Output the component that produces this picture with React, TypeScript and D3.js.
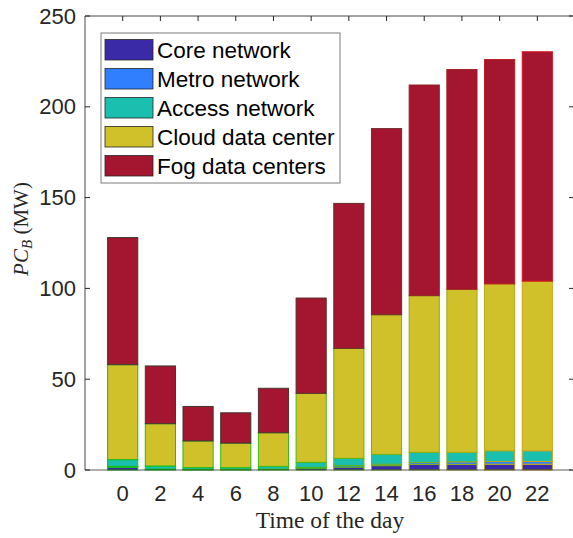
import React from "react";
import * as d3 from "d3";

// Hour of the day for each stacked bar
const hours = [0, 2, 4, 6, 8, 10, 12, 14, 16, 18, 20, 22];

// Power consumption per component (MW), stacked from bottom to top
const coreNetwork = [1.5, 0.3, 0.2, 0.2, 0.3, 1.0, 1.6, 2.4, 3.1, 3.1, 3.2, 3.2];
const metroNetwork = [0.5, 0.2, 0.1, 0.1, 0.2, 0.5, 0.8, 0.8, 1.1, 1.4, 1.5, 1.5];
const accessNetwork = [3.7, 1.7, 1.0, 1.0, 1.5, 2.7, 4.0, 5.4, 5.5, 5.2, 5.9, 5.9];
const cloudDataCenter = [52.3, 23.3, 14.7, 13.5, 18.5, 38.0, 60.6, 76.9, 86.3, 89.8, 91.9, 93.4];
const fogDataCenters = [70.0, 31.8, 19.0, 16.7, 24.5, 52.5, 79.8, 102.5, 116.0, 121.0, 123.5, 126.3];

const seriesNames = ["Core network", "Metro network", "Access network", "Cloud data center", "Fog data centers"];
const seriesValues = [coreNetwork, metroNetwork, accessNetwork, cloudDataCenter, fogDataCenters];
const seriesColors = ["#3b2aa8", "#2f7fff", "#1abfb0", "#d0c02a", "#a4152f"];

const yTicks = [0, 50, 100, 150, 200, 250];

const W = 573;
const H = 538;
const left = 85;
const right = 575;
const top = 16;
const bottom = 470;

export default function App() {
  const x = d3.scaleLinear().domain([-2, 24]).range([left, right]);
  const y = d3.scaleLinear().domain([0, 250]).range([bottom, top]);
  const barW = (x(2) - x(0)) * 0.8;

  const rows = hours.map((h, i) => {
    const r: any = { hour: h };
    seriesNames.forEach((n, k) => (r[n] = seriesValues[k][i]));
    return r;
  });
  const stacked = d3.stack<any>().keys(seriesNames)(rows);

  // Edge colours shift across the day
  const lowEdge = d3.interpolateRgb("#14c014", "#d0a418");
  const fogEdge = d3.interpolateRgb("#3a3a30", "#d8101c");
  const edgeFor = (k: number, i: number) => {
    const t = i / (hours.length - 1);
    return k === 4 ? fogEdge(Math.pow(t, 2.2)) : lowEdge(Math.pow(t, 1.6));
  };

  const axisColor = "#262626";
  const tickFont = "'Liberation Sans', Arial, Helvetica, sans-serif";
  const serif = "'Liberation Serif', 'Times New Roman', serif";

  const legendX = 101;
  const legendY = 33;
  const rowH = 29;

  return (
    <svg width={W} height={H} style={{ display: "block", position: "absolute", left: 0, top: 0 }}>
      <rect width={W} height={H} fill="#ffffff" />
      {/* stacked bars */}
      {stacked.map((layer, k) => (
        <g key={seriesNames[k]}>
          {layer.map((d, i) => (
            <rect
              key={i}
              x={x(hours[i]) - barW / 2}
              y={y(d[1])}
              width={barW}
              height={Math.max(0, y(d[0]) - y(d[1]))}
              fill={seriesColors[k]}
              stroke={edgeFor(k, i)}
              strokeWidth={1}
            />
          ))}
        </g>
      ))}

      {/* axes box */}
      <line x1={left} x2={right} y1={bottom} y2={bottom} stroke={axisColor} strokeOpacity={0.75} />
      <line x1={left} x2={right} y1={top} y2={top} stroke={axisColor} strokeOpacity={0.85} />
      <line x1={left} x2={left} y1={top} y2={bottom} stroke={axisColor} strokeOpacity={0.85} />
      <line x1={right - 1} x2={right - 1} y1={top} y2={bottom} stroke={axisColor} />

      {/* y ticks */}
      {yTicks.map((t) => (
        <g key={t}>
          <line x1={left} x2={left + 5} y1={y(t)} y2={y(t)} stroke={axisColor} />
          <line x1={right - 6} x2={right - 1} y1={y(t)} y2={y(t)} stroke={axisColor} />
          <text
            x={left - 9}
            y={y(t)}
            textAnchor="end"
            dominantBaseline="central"
            fontFamily={tickFont}
            fontSize={22}
            fill="#262626"
          >
            {t}
          </text>
        </g>
      ))}

      {/* x ticks */}
      {hours.map((h) => (
        <g key={h}>
          <line x1={x(h)} x2={x(h)} y1={top} y2={top + 5} stroke={axisColor} />
          <text
            x={x(h)}
            y={501}
            textAnchor="middle"
            fontFamily={tickFont}
            fontSize={22}
            fill="#262626"
          >
            {h}
          </text>
        </g>
      ))}

      {/* axis labels */}
      <text x={330} y={528} textAnchor="middle" fontFamily={serif} fontSize={23.5} fill="#262626">
        Time of the day
      </text>
      <text
        transform={`translate(28, 229) rotate(-90)`}
        textAnchor="middle"
        fontFamily={serif}
        fontSize={21}
        fill="#262626"
      >
        <tspan fontStyle="italic">PC</tspan>
        <tspan fontStyle="italic" fontSize={15} dy={4}>B</tspan>
        <tspan dy={-4}> (MW)</tspan>
      </text>

      {/* legend */}
      <rect
        x={legendX}
        y={legendY}
        width={239}
        height={150}
        fill="#ffffff"
        stroke="#7a7a7a"
        strokeWidth={1}
      />
      {seriesNames.map((n, k) => (
        <g key={n}>
          <rect
            x={105}
            y={39.5 + k * rowH}
            width={48}
            height={20.5}
            fill={seriesColors[k]}
            stroke="#262626"
            strokeWidth={0.8}
          />
          <text
            x={157}
            y={50 + k * rowH}
            dominantBaseline="central"
            fontFamily={tickFont}
            fontSize={22.5}
            fill="#000000"
          >
            {n}
          </text>
        </g>
      ))}
    </svg>
  );
}
